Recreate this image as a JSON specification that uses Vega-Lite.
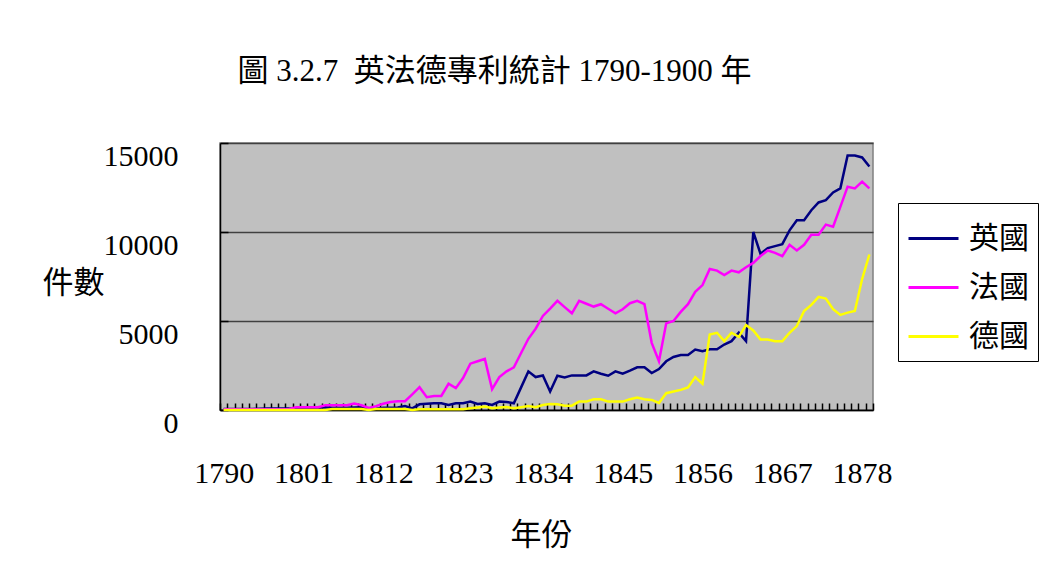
{
  "$schema": "https://vega.github.io/schema/vega-lite/v6.json",
  "width": 653,
  "height": 267,
  "autosize": {"type": "none"},
  "padding": {"left": 220, "top": 143, "right": 170, "bottom": 157},
  "background": "white",
  "config": {
    "font": "Liberation Serif, Noto Sans CJK TC",
    "view": {"fill": "#C0C0C0", "stroke": "#808080", "strokeWidth": 1.5}
  },
  "title": {
    "text": "圖 3.2.7\u00a0 英法德專利統計 1790-1900 年",
    "fontSize": 31,
    "fontWeight": "normal",
    "color": "black",
    "anchor": "middle",
    "frame": "group",
    "dx": -52,
    "offset": 22,
    "baseline": "bottom"
  },
  "data": {
    "values": [
      {"year": 1790, "英國": 60, "法國": 40, "德國": 0},
      {"year": 1791, "英國": 60, "法國": 40, "德國": 0},
      {"year": 1792, "英國": 60, "法國": 40, "德國": 0},
      {"year": 1793, "英國": 60, "法國": 40, "德國": 0},
      {"year": 1794, "英國": 60, "法國": 40, "德國": 0},
      {"year": 1795, "英國": 70, "法國": 40, "德國": 0},
      {"year": 1796, "英國": 80, "法國": 40, "德國": 0},
      {"year": 1797, "英國": 80, "法國": 40, "德國": 0},
      {"year": 1798, "英國": 90, "法國": 40, "德國": 0},
      {"year": 1799, "英國": 90, "法國": 60, "德國": 0},
      {"year": 1800, "英國": 100, "法國": 160, "德國": 0},
      {"year": 1801, "英國": 100, "法國": 160, "德國": 0},
      {"year": 1802, "英國": 100, "法國": 160, "德國": 0},
      {"year": 1803, "英國": 110, "法國": 160, "德國": 0},
      {"year": 1804, "英國": 150, "法國": 265, "德國": 0},
      {"year": 1805, "英國": 130, "法國": 265, "德國": 50},
      {"year": 1806, "英國": 130, "法國": 265, "德國": 50},
      {"year": 1807, "英國": 130, "法國": 265, "德國": 50},
      {"year": 1808, "英國": 140, "法國": 360, "德國": 50},
      {"year": 1809, "英國": 150, "法國": 265, "德國": 50},
      {"year": 1810, "英國": 60, "法國": 110, "德國": 0},
      {"year": 1811, "英國": 70, "法國": 220, "德國": 50},
      {"year": 1812, "英國": 130, "法國": 350, "德國": 50},
      {"year": 1813, "英國": 130, "法國": 450, "德國": 50},
      {"year": 1814, "英國": 140, "法國": 490, "德國": 50},
      {"year": 1815, "英國": 220, "法國": 490, "德國": 50},
      {"year": 1816, "英國": 94, "法國": 880, "德國": 0},
      {"year": 1817, "英國": 321, "法國": 1280, "德國": 40},
      {"year": 1818, "英國": 350, "法國": 717, "德國": 40},
      {"year": 1819, "英國": 377, "法國": 792, "德國": 40},
      {"year": 1820, "英國": 377, "法國": 792, "德國": 40},
      {"year": 1821, "英國": 283, "法國": 1472, "德國": 40},
      {"year": 1822, "英國": 377, "法國": 1226, "德國": 40},
      {"year": 1823, "英國": 377, "法國": 1792, "德國": 40},
      {"year": 1824, "英國": 472, "法國": 2604, "德國": 94},
      {"year": 1825, "英國": 340, "法國": 2740, "德國": 140},
      {"year": 1826, "英國": 377, "法國": 2868, "德國": 189},
      {"year": 1827, "英國": 283, "法國": 1170, "德國": 94},
      {"year": 1828, "英國": 472, "法國": 1849, "德國": 140},
      {"year": 1829, "英國": 450, "法國": 2170, "德國": 170},
      {"year": 1830, "英國": 377, "法國": 2396, "德國": 94},
      {"year": 1831, "英國": 1270, "法國": 3200, "德國": 160},
      {"year": 1832, "英國": 2170, "法國": 4000, "德國": 226},
      {"year": 1833, "英國": 1849, "法國": 4566, "德國": 151},
      {"year": 1834, "英國": 1943, "法國": 5283, "德國": 283},
      {"year": 1835, "英國": 1038, "法國": 5698, "德國": 340},
      {"year": 1836, "英國": 1924, "法國": 6132, "德國": 321},
      {"year": 1837, "英國": 1830, "法國": 5780, "德國": 245},
      {"year": 1838, "英國": 1943, "法國": 5434, "德國": 245},
      {"year": 1839, "英國": 1943, "法國": 6132, "德國": 472},
      {"year": 1840, "英國": 1943, "法國": 5970, "德國": 472},
      {"year": 1841, "英國": 2170, "法國": 5811, "德國": 604},
      {"year": 1842, "英國": 2038, "法國": 5943, "德國": 604},
      {"year": 1843, "英國": 1924, "法國": 5690, "德國": 472},
      {"year": 1844, "英國": 2170, "法國": 5434, "德國": 472},
      {"year": 1845, "英國": 2038, "法國": 5660, "德國": 472},
      {"year": 1846, "英國": 2207, "法國": 6000, "德國": 604},
      {"year": 1847, "英國": 2396, "法國": 6132, "德國": 698},
      {"year": 1848, "英國": 2396, "法國": 5943, "德國": 604},
      {"year": 1849, "英國": 2075, "法國": 3773, "德國": 566},
      {"year": 1850, "英國": 2302, "法國": 2736, "德國": 400},
      {"year": 1851, "英國": 2736, "法國": 4868, "德國": 943},
      {"year": 1852, "英國": 2981, "法國": 4999, "德國": 1038},
      {"year": 1853, "英國": 3094, "法國": 5509, "德國": 1132},
      {"year": 1854, "英國": 3094, "法國": 5943, "德國": 1264},
      {"year": 1855, "英國": 3396, "法國": 6641, "德國": 1849},
      {"year": 1856, "英國": 3301, "法國": 7018, "德國": 1472},
      {"year": 1857, "英國": 3415, "法國": 7924, "德國": 4245},
      {"year": 1858, "英國": 3415, "法國": 7830, "德國": 4339},
      {"year": 1859, "英國": 3679, "法國": 7584, "德國": 3868},
      {"year": 1860, "英國": 3868, "法國": 7830, "德國": 4339},
      {"year": 1861, "英國": 4339, "法國": 7735, "德國": 4113},
      {"year": 1862, "英國": 3868, "法國": 8018, "德國": 4773},
      {"year": 1863, "英國": 10000, "法國": 8264, "德國": 4471},
      {"year": 1864, "英國": 8773, "法國": 8650, "德國": 3962},
      {"year": 1865, "英國": 9094, "法國": 8962, "德國": 3962},
      {"year": 1866, "英國": 9207, "法國": 8830, "德國": 3868},
      {"year": 1867, "英國": 9320, "法國": 8641, "德國": 3868},
      {"year": 1868, "英國": 10094, "法國": 9282, "德國": 4339},
      {"year": 1869, "英國": 10660, "法國": 8962, "德國": 4716},
      {"year": 1870, "英國": 10660, "法國": 9282, "德國": 5566},
      {"year": 1871, "英國": 11226, "法國": 9848, "德國": 5905},
      {"year": 1872, "英國": 11660, "法國": 9848, "德國": 6358},
      {"year": 1873, "英國": 11792, "法國": 10414, "德國": 6264},
      {"year": 1874, "英國": 12226, "法國": 10301, "德國": 5660},
      {"year": 1875, "英國": 12452, "法國": 11414, "德國": 5339},
      {"year": 1876, "英國": 14301, "法國": 12546, "德國": 5471},
      {"year": 1877, "英國": 14301, "法國": 12452, "德國": 5566},
      {"year": 1878, "英國": 14188, "法國": 12829, "德國": 7358},
      {"year": 1879, "英國": 13679, "法國": 12452, "德國": 8735}
    ]
  },
  "transform": [{"fold": ["英國", "法國", "德國"], "as": ["country", "n"]}],
  "mark": {"type": "line", "strokeWidth": 2.5},
  "encoding": {
    "x": {
      "field": "year",
      "type": "ordinal",
      "bandPosition": 0.5,
      "scale": {"type": "band", "paddingInner": 0, "paddingOuter": 0},
      "axis": {
        "title": "年份",
        "labelExpr": "(datum.value - 1790) % 11 == 0 ? datum.label : ''",
        "labelAngle": 0,
        "labelFontSize": 30,
        "labelColor": "black",
        "labelPadding": 55,
        "labelOverlap": false,
        "ticks": true,
        "tickBand": "extent",
        "tickSize": -7,
        "tickColor": "black",
        "tickWidth": 1.5,
        "domainColor": "black",
        "domainWidth": 1.5,
        "grid": false,
        "titleFontSize": 31,
        "titleFontWeight": "normal",
        "titleColor": "black",
        "titleX": 321,
        "titleY": 125,
        "titleAlign": "center",
        "titleBaseline": "middle"
      }
    },
    "y": {
      "field": "n",
      "type": "quantitative",
      "scale": {"domain": [0, 15000], "nice": false},
      "axis": {
        "title": "件數",
        "values": [0, 5000, 10000, 15000],
        "format": "d",
        "labelFontSize": 30,
        "labelColor": "black",
        "labelPadding": 50,
        "labelBaseline": "middle",
        "labelOffset": 13,
        "labelFlush": false,
        "tickSize": -8,
        "tickColor": "black",
        "tickWidth": 1.5,
        "domainColor": "black",
        "domainWidth": 1.5,
        "grid": true,
        "gridColor": "#404040",
        "gridWidth": 1.4,
        "titleAngle": 0,
        "titleFontSize": 31,
        "titleFontWeight": "normal",
        "titleColor": "black",
        "titleX": -147,
        "titleY": 140,
        "titleAlign": "center",
        "titleBaseline": "middle"
      }
    },
    "color": {
      "field": "country",
      "type": "nominal",
      "scale": {"domain": ["英國", "法國", "德國"], "range": ["#000080", "#FF00FF", "#FFFF00"]},
      "legend": {
        "title": null,
        "orient": "none",
        "legendX": 678,
        "legendY": 60,
        "symbolType": "stroke",
        "symbolSize": 2500,
        "symbolStrokeWidth": 3,
        "labelFontSize": 30,
        "labelColor": "black",
        "labelOffset": 9,
        "padding": 9,
        "rowPadding": 7,
        "strokeColor": "black",
        "fillColor": "white"
      }
    }
  }
}
